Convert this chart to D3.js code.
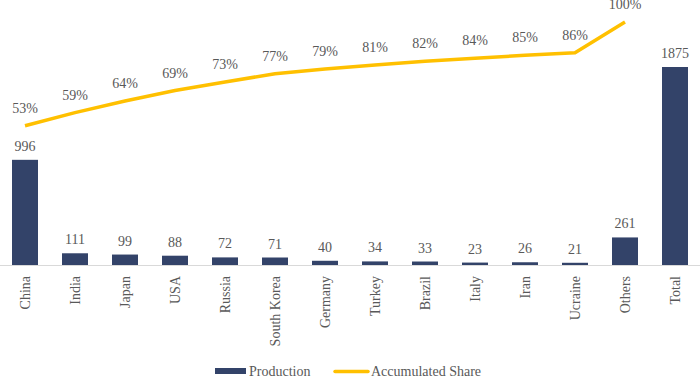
<!DOCTYPE html>
<html>
<head>
<meta charset="utf-8">
<script src="https://cdn.jsdelivr.net/npm/d3@7"></script>
<style>
  body { margin: 0; background: #fff; }
  svg { display: block; }
  svg text { font-family: "Liberation Serif", "Times New Roman", Times, "DejaVu Serif", serif; }
</style>
</head>
<body>
<div class="chart"></div>
<script>
const countries = ['China', 'India', 'Japan', 'USA', 'Russia', 'South Korea', 'Germany',
  'Turkey', 'Brazil', 'Italy', 'Iran', 'Ucraine', 'Others', 'Total']
const production = [996, 111, 99, 88, 72, 71, 40, 34, 33, 23, 26, 21, 261, 1875]
// accumulated share (%), one per country up to Others
const shares = [53.1, 59.0, 64.3, 69.0, 72.9, 76.6, 78.8, 80.6, 82.3, 83.6, 85.0, 86.1, 100]
const shareLabels = ['53%', '59%', '64%', '69%', '73%', '77%', '79%', '81%', '82%', '84%', '85%', '86%', '100%']
const legendItems = ['Production', 'Accumulated Share']

const width = 700, height = 377
const baseline = 265
const font = '"Liberation Serif", "Times New Roman", Times, "DejaVu Serif", serif'

const barColor = '#334369'
const lineColor = '#FFC000'
const textColor = '#595959'

const svg = d3.select('.chart')
  .append('svg')
  .attr('width', width)
  .attr('height', height)
  .attr('font-family', font)

const x = d3.scaleBand()
  .domain(countries)
  .range([0, width])
  .paddingInner(0.48)
  .paddingOuter(0.24)

const y = d3.scaleLinear()
  .domain([0, 2500])
  .range([baseline, 1])

const y2 = d3.scaleLinear()
  .domain([0, 110])
  .range([243, 0])

// bars
svg.selectAll('.bar')
  .data(production)
  .enter()
  .append('rect')
  .attr('class', 'bar')
  .attr('x', (d, i) => x(countries[i]))
  .attr('width', x.bandwidth())
  .attr('y', d => y(d))
  .attr('height', d => baseline - y(d))
  .attr('fill', barColor)

svg.selectAll('.bar-label')
  .data(production)
  .enter()
  .append('text')
  .attr('class', 'bar-label')
  .attr('x', (d, i) => x(countries[i]) + x.bandwidth() / 2)
  .attr('y', d => y(d) - 9)
  .attr('text-anchor', 'middle')
  .attr('font-size', 14)
  .attr('font-family', font)
  .attr('fill', textColor)
  .text(d => d)

// x axis line
svg.append('line')
  .attr('x1', 0).attr('x2', width)
  .attr('y1', baseline + 0.5).attr('y2', baseline + 0.5)
  .attr('stroke', '#d9d9d9')
  .attr('stroke-width', 1)

// category labels, rotated
svg.selectAll('.cat')
  .data(countries)
  .enter()
  .append('text')
  .attr('class', 'cat')
  .attr('transform', d => `translate(${x(d) + x.bandwidth() / 2},276) rotate(-90)`)
  .attr('text-anchor', 'end')
  .attr('dy', '0.35em')
  .attr('font-size', 14)
  .attr('font-family', font)
  .attr('fill', textColor)
  .text(d => d)

// accumulated share line
const line = d3.line()
  .x((d, i) => x(countries[i]) + x.bandwidth() / 2)
  .y(d => y2(d))

svg.append('path')
  .datum(shares)
  .attr('d', line)
  .attr('fill', 'none')
  .attr('stroke', lineColor)
  .attr('stroke-width', 3.5)
  .attr('stroke-linejoin', 'round')

svg.selectAll('.share-label')
  .data(shares)
  .enter()
  .append('text')
  .attr('class', 'share-label')
  .attr('x', (d, i) => x(countries[i]) + x.bandwidth() / 2)
  .attr('y', d => y2(d) - 13)
  .attr('text-anchor', 'middle')
  .attr('font-size', 14)
  .attr('font-family', font)
  .attr('fill', textColor)
  .text((d, i) => shareLabels[i])

// legend
const legend = svg.append('g').attr('transform', 'translate(215,0)')

legend.append('rect')
  .attr('x', 0).attr('y', 368)
  .attr('width', 31).attr('height', 6)
  .attr('fill', barColor)

legend.append('text')
  .attr('x', 34).attr('y', 376)
  .attr('font-size', 14)
  .attr('font-family', font)
  .attr('fill', textColor)
  .text(legendItems[0])

legend.append('line')
  .attr('x1', 120).attr('x2', 153)
  .attr('y1', 371.5).attr('y2', 371.5)
  .attr('stroke', lineColor)
  .attr('stroke-width', 3.5)
  .attr('stroke-linecap', 'round')

legend.append('text')
  .attr('x', 156).attr('y', 376)
  .attr('font-size', 14)
  .attr('font-family', font)
  .attr('fill', textColor)
  .text(legendItems[1])
</script>
</body>
</html>
